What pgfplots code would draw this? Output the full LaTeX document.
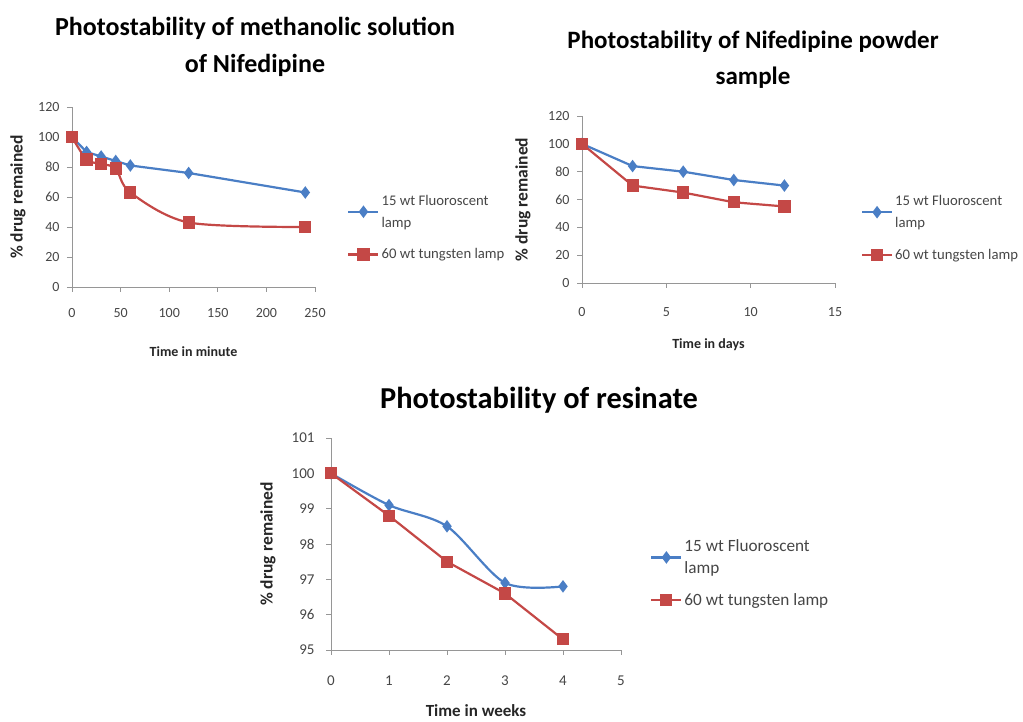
\documentclass[border=0pt]{standalone}
\usepackage{fontspec}
\setmainfont{Carlito}
\usepackage{pgfplots}
\pgfplotsset{compat=1.18}
\definecolor{xblue}{RGB}{74,126,197}
\definecolor{xred}{RGB}{196,72,70}
\definecolor{axgray}{RGB}{150,150,150}
\definecolor{txtgray}{RGB}{70,70,70}
\pgfplotsset{
 xl/.style={
  scale only axis,
  axis x line*=bottom, axis y line*=left,
  axis line style={axgray, line width=0.8pt, -},
  tick style={axgray, line width=0.8pt},
  tick align=outside, major tick length=5pt,
  /pgf/number format/assume math mode=true,
  ticklabel style={text=txtgray, font=\fontsize{14}{16}\selectfont},
  legend cell align=left,
  legend style={draw=none, fill=none, anchor=north west, row sep=16pt,
    nodes={align=left, text=txtgray}, font=\fontsize{14.7}{22}\selectfont},
  legend image code/.code={\draw[mark repeat=2,mark phase=2] plot coordinates {(0pt,0pt)(15pt,0pt)(30pt,0pt)};},
 },
 xlab/.style={every axis x label/.style={at={(axis description cs:0.5,#1)}, anchor=center, font=\fontsize{14}{16}\selectfont\bfseries, text=black!85}},
 ylab/.style={every axis y label/.style={at={(axis description cs:#1,0.5)}, rotate=90, anchor=center, font=\fontsize{17.5}{19}\selectfont\bfseries, text=black!85}},
 bl/.style={xblue, line width=2.2pt, mark=diamond*, mark size=4.5pt, mark options={solid}},
 rd/.style={xred, line width=2.2pt, mark=square*, mark size=5pt, mark options={solid}},
}
\begin{document}
\begin{tikzpicture}
\useasboundingbox (0pt,0pt) rectangle (1023pt,722pt);
% titles
\node[align=center, font=\fontsize{26}{37}\selectfont\bfseries] at (255pt,675.5pt) {Photostability of methanolic solution\\of Nifedipine};
\node[align=center, font=\fontsize{25}{36}\selectfont\bfseries] at (753pt,662pt) {Photostability of Nifedipine powder\\sample};
\node[font=\fontsize{30.4}{34}\selectfont\bfseries] at (539pt,322pt) {Photostability of resinate};

% chart 1
\begin{axis}[xl, at={(72pt,435pt)}, anchor=south west, width=243pt, height=180pt,
  xmin=0, xmax=250, ymin=0, ymax=120,
  xtick={0,50,...,250}, ytick={0,20,...,120},
  xticklabel style={yshift=-13pt}, yticklabel style={xshift=-4pt},
  xlabel={Time in minute}, ylabel={\% drug remained},
  xlab=-0.361, ylab=-0.222,
  legend style={at={(axis description cs:1.12,0.535)}}]
\addplot[bl] coordinates {(0,100)(15,90)(30,87)(45,84)(60,81)(120,76)(240,63)};
\addplot[rd, smooth] coordinates {(0,100)(15,85)(30,82)(45,79)(60,63)(120,43)(240,40)};
\legend{{15 wt Fluoroscent\\lamp}, {60 wt tungsten lamp}}
\end{axis}

% chart 2
\begin{axis}[xl, at={(582pt,439pt)}, anchor=south west, width=253pt, height=167pt,
  xmin=0, xmax=15, ymin=0, ymax=120,
  xtick={0,5,10,15}, ytick={0,20,...,120},
  xticklabel style={yshift=-16pt}, yticklabel style={xshift=-4pt},
  xlabel={Time in days}, ylabel={\% drug remained},
  xlab=-0.371, ylab=-0.233,
  legend style={at={(axis description cs:1.09,0.55)}}]
\addplot[bl] coordinates {(0,100)(3,84)(6,80)(9,74)(12,70)};
\addplot[rd] coordinates {(0,100)(3,70)(6,65)(9,58)(12,55)};
\legend{{15 wt Fluoroscent\\lamp}, {60 wt tungsten lamp}}
\end{axis}

% chart 3
\begin{axis}[xl, at={(331pt,72pt)}, anchor=south west, width=290pt, height=212pt,
  xmin=0, xmax=5, ymin=95, ymax=101,
  xtick={0,1,...,5}, ytick={95,96,...,101},
  ticklabel style={font=\fontsize{15}{17}\selectfont},
  xticklabel style={yshift=-17pt}, yticklabel style={xshift=-8pt},
  xlabel={Time in weeks}, ylabel={\% drug remained},
  xlab=-0.288, ylab=-0.217,
  every axis x label/.append style={font=\fontsize{17}{19}\selectfont\bfseries},
  legend style={at={(axis description cs:1.09,0.54)}, font=\fontsize{17.2}{22}\selectfont, row sep=14pt}]
\addplot[bl, smooth] coordinates {(0,100)(1,99.1)(2,98.5)(3,96.9)(4,96.8)};
\addplot[rd] coordinates {(0,100)(1,98.8)(2,97.5)(3,96.6)(4,95.3)};
\legend{{15 wt Fluoroscent\\lamp}, {60 wt tungsten lamp}}
\end{axis}
\end{tikzpicture}
\end{document}
